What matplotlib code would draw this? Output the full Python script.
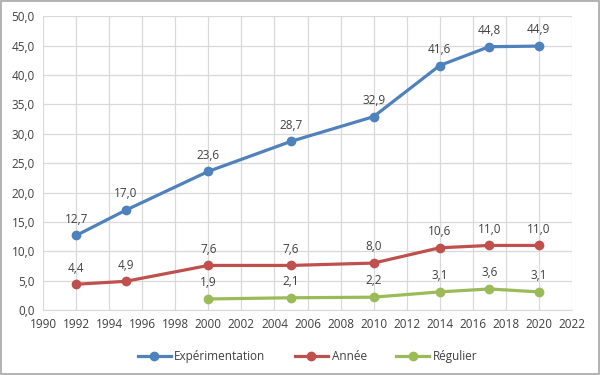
import matplotlib

matplotlib.use("Agg")
import matplotlib.pyplot as plt
from matplotlib.patches import Rectangle

plt.rcParams["font.family"] = ["Open Sans", "DejaVu Sans"]

YEARS_EXP = [1992, 1995, 2000, 2005, 2010, 2014, 2017, 2020]
EXPERIMENTATION = [12.7, 17.0, 23.6, 28.7, 32.9, 41.6, 44.8, 44.9]
YEARS_ANNEE = [1992, 1995, 2000, 2005, 2010, 2014, 2017, 2020]
ANNEE = [4.4, 4.9, 7.6, 7.6, 8.0, 10.6, 11.0, 11.0]
YEARS_REG = [2000, 2005, 2010, 2014, 2017, 2020]
REGULIER = [1.9, 2.1, 2.2, 3.1, 3.6, 3.1]

SERIES = [
    ("Expérimentation", YEARS_EXP, EXPERIMENTATION, "#4F81BD"),
    ("Année", YEARS_ANNEE, ANNEE, "#C0504D"),
    ("Régulier", YEARS_REG, REGULIER, "#9BBB59"),
]

TXT = "#404040"


def fmt(v):
    return f"{v:.1f}".replace(".", ",")


fig = plt.figure(figsize=(6, 3.75), dpi=100)
ax = fig.add_axes([0.072, 0.173, 0.881, 0.784])

for name, xs, ys, col in SERIES:
    ax.plot(xs, ys, color=col, lw=2.3, marker="o", ms=6, label=name)
    for x, y in zip(xs, ys):
        ax.annotate(fmt(y), (x, y), xytext=(0, 7), textcoords="offset points",
                    ha="center", va="bottom", fontsize=8.5, color=TXT)

ax.set_xlim(1990, 2022)
ax.set_ylim(0, 50)
ax.set_xticks(range(1990, 2023, 2))
ax.set_yticks(range(0, 51, 5))
ax.set_yticklabels([fmt(v) for v in range(0, 51, 5)])
ax.tick_params(length=0, labelsize=8.5, colors=TXT, pad=6)
ax.grid(True, color="#D9D9D9", lw=0.9)
ax.set_axisbelow(True)
for s in ["top", "right", "left"]:
    ax.spines[s].set_visible(False)
ax.spines["bottom"].set_color("#D9D9D9")

leg = ax.legend(loc="upper center", bbox_to_anchor=(0.5, -0.1), ncol=3,
                frameon=False, fontsize=8.5, handlelength=2.8, columnspacing=2.5,
                handletextpad=0.3)
for t in leg.get_texts():
    t.set_color(TXT)

fig.patches.append(Rectangle((0.002, 0.003), 0.996, 0.994, transform=fig.transFigure,
                             fill=False, edgecolor="#A6A6A6", lw=1.2))

fig.savefig("out.png", dpi=100)
